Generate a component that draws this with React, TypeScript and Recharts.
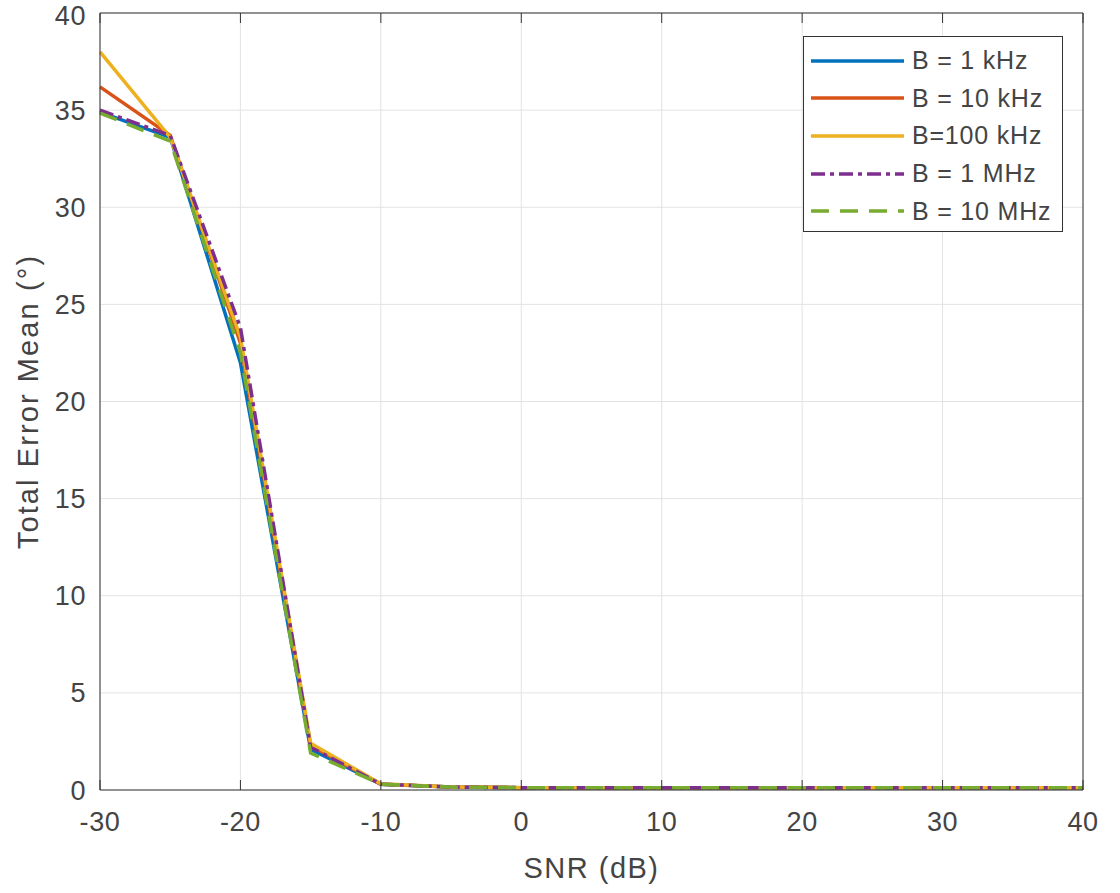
import React from 'react';
import { LineChart, Line, XAxis, YAxis, CartesianGrid } from 'recharts';

// SNR sweep (dB)
const snr = [-30, -25, -20, -15, -10, -5, 0, 5, 10, 15, 20, 25, 30, 35, 40];

// mean total error (deg) for each bandwidth
const b1k = [34.9, 33.6, 22.0, 2.1, 0.3, 0.15, 0.12, 0.12, 0.12, 0.12, 0.12, 0.12, 0.12, 0.12, 0.12];
const b10k = [36.2, 33.7, 23.0, 2.3, 0.3, 0.15, 0.12, 0.12, 0.12, 0.12, 0.12, 0.12, 0.12, 0.12, 0.12];
const b100k = [38.0, 33.6, 23.3, 2.4, 0.32, 0.15, 0.12, 0.12, 0.12, 0.12, 0.12, 0.12, 0.12, 0.12, 0.12];
const b1M = [35.0, 33.7, 23.8, 2.2, 0.3, 0.15, 0.12, 0.12, 0.12, 0.12, 0.12, 0.12, 0.12, 0.12, 0.12];
const b10M = [34.85, 33.4, 22.5, 1.9, 0.3, 0.15, 0.12, 0.12, 0.12, 0.12, 0.12, 0.12, 0.12, 0.12, 0.12];

const xTicks = [-30, -20, -10, 0, 10, 20, 30, 40];
const yTicks = [0, 5, 10, 15, 20, 25, 30, 35, 40];

const data = snr.map((s, i) => ({
  snr: s,
  b1k: b1k[i],
  b10k: b10k[i],
  b100k: b100k[i],
  b1M: b1M[i],
  b10M: b10M[i],
}));

const series = [
  { key: 'b1k', name: 'B = 1 kHz', color: '#0072BD', dash: undefined },
  { key: 'b10k', name: 'B = 10 kHz', color: '#D95319', dash: undefined },
  { key: 'b100k', name: 'B=100 kHz', color: '#EDB120', dash: undefined },
  { key: 'b1M', name: 'B = 1 MHz', color: '#7E2F8E', dash: '14 5 4 5' },
  { key: 'b10M', name: 'B = 10 MHz', color: '#77AC30', dash: '18 11' },
];

const FONT = '"Liberation Sans", Arial, sans-serif';
const AXIS = '#333';
const TEXT = '#444';

const noLabel = () => <g />;

// boxed legend in the upper right of the axes
const LegendBox = () => (
  <div
    style={{
      position: 'absolute',
      left: 803,
      top: 36,
      width: 258,
      height: 194,
      border: '1px solid #333',
      background: '#fff',
      boxSizing: 'content-box',
      fontFamily: FONT,
      fontSize: 25,
      letterSpacing: 0.8,
      color: TEXT,
    }}
  >
    {series.map((s, i) => (
      <div
        key={s.key}
        style={{ position: 'absolute', left: 0, top: 5 + i * 37.7, height: 37, display: 'flex', alignItems: 'center', whiteSpace: 'nowrap' }}
      >
        <svg width={101} height={10} style={{ marginLeft: 7 }}>
          <line x1={0} y1={5} x2={93} y2={5} stroke={s.color} strokeWidth={3.5} strokeDasharray={s.dash} />
        </svg>
        <span>{s.name}</span>
      </div>
    ))}
  </div>
);

export default function App() {
  return (
    <div style={{ position: 'absolute', left: 0, top: 0, width: 1120, height: 893, background: '#fff' }}>
      <LineChart width={1120} height={893} data={data} margin={{ top: 13, right: 37, left: 0, bottom: 0 }}>
        <CartesianGrid stroke="#e3e3e3" strokeWidth={1} xAxisId="x" yAxisId="y" />
        <XAxis
          xAxisId="x"
          dataKey="snr"
          type="number"
          domain={[-30, 40]}
          ticks={xTicks}
          height={103}
          tickLine={false}
          axisLine={{ stroke: AXIS }}
          tickMargin={16}
          tick={{ fill: TEXT, fontSize: 27, fontFamily: FONT, letterSpacing: 0.6 }}
          label={{ value: 'SNR (dB)', position: 'insideTop', offset: 67, fill: TEXT, fontSize: 29, fontFamily: FONT, letterSpacing: 1.5 }}
        />
        <XAxis xAxisId="xb" dataKey="snr" type="number" domain={[-30, 40]} ticks={xTicks} orientation="bottom" mirror axisLine={false} tickSize={10} tickLine={{ stroke: AXIS }} tick={noLabel} />
        <XAxis xAxisId="xt" dataKey="snr" type="number" domain={[-30, 40]} ticks={xTicks} orientation="top" mirror axisLine={{ stroke: AXIS }} tickSize={10} tickLine={{ stroke: AXIS }} tick={noLabel} />
        <YAxis
          yAxisId="y"
          type="number"
          domain={[0, 40]}
          ticks={yTicks}
          width={100}
          tickLine={false}
          axisLine={{ stroke: AXIS }}
          tickMargin={8}
          tick={{ fill: TEXT, fontSize: 27, fontFamily: FONT, letterSpacing: 0.6 }}
          label={{ value: 'Total Error Mean (°)', angle: -90, position: 'insideLeft', offset: 28, fill: TEXT, fontSize: 29, fontFamily: FONT, letterSpacing: 2.1, style: { textAnchor: 'middle' } }}
        />
        <YAxis yAxisId="yl" type="number" domain={[0, 40]} ticks={yTicks} orientation="left" mirror axisLine={false} tickSize={10} tickLine={{ stroke: AXIS }} tick={noLabel} />
        <YAxis yAxisId="yr" type="number" domain={[0, 40]} ticks={yTicks} orientation="right" mirror axisLine={{ stroke: AXIS }} tickSize={10} tickLine={{ stroke: AXIS }} tick={noLabel} />
        {series.map((s) => (
          <Line
            key={s.key}
            xAxisId="x"
            yAxisId="y"
            type="linear"
            dataKey={s.key}
            name={s.name}
            stroke={s.color}
            strokeWidth={3.5}
            strokeDasharray={s.dash}
            dot={false}
            activeDot={false}
            isAnimationActive={false}
          />
        ))}
      </LineChart>
      <LegendBox />
    </div>
  );
}
